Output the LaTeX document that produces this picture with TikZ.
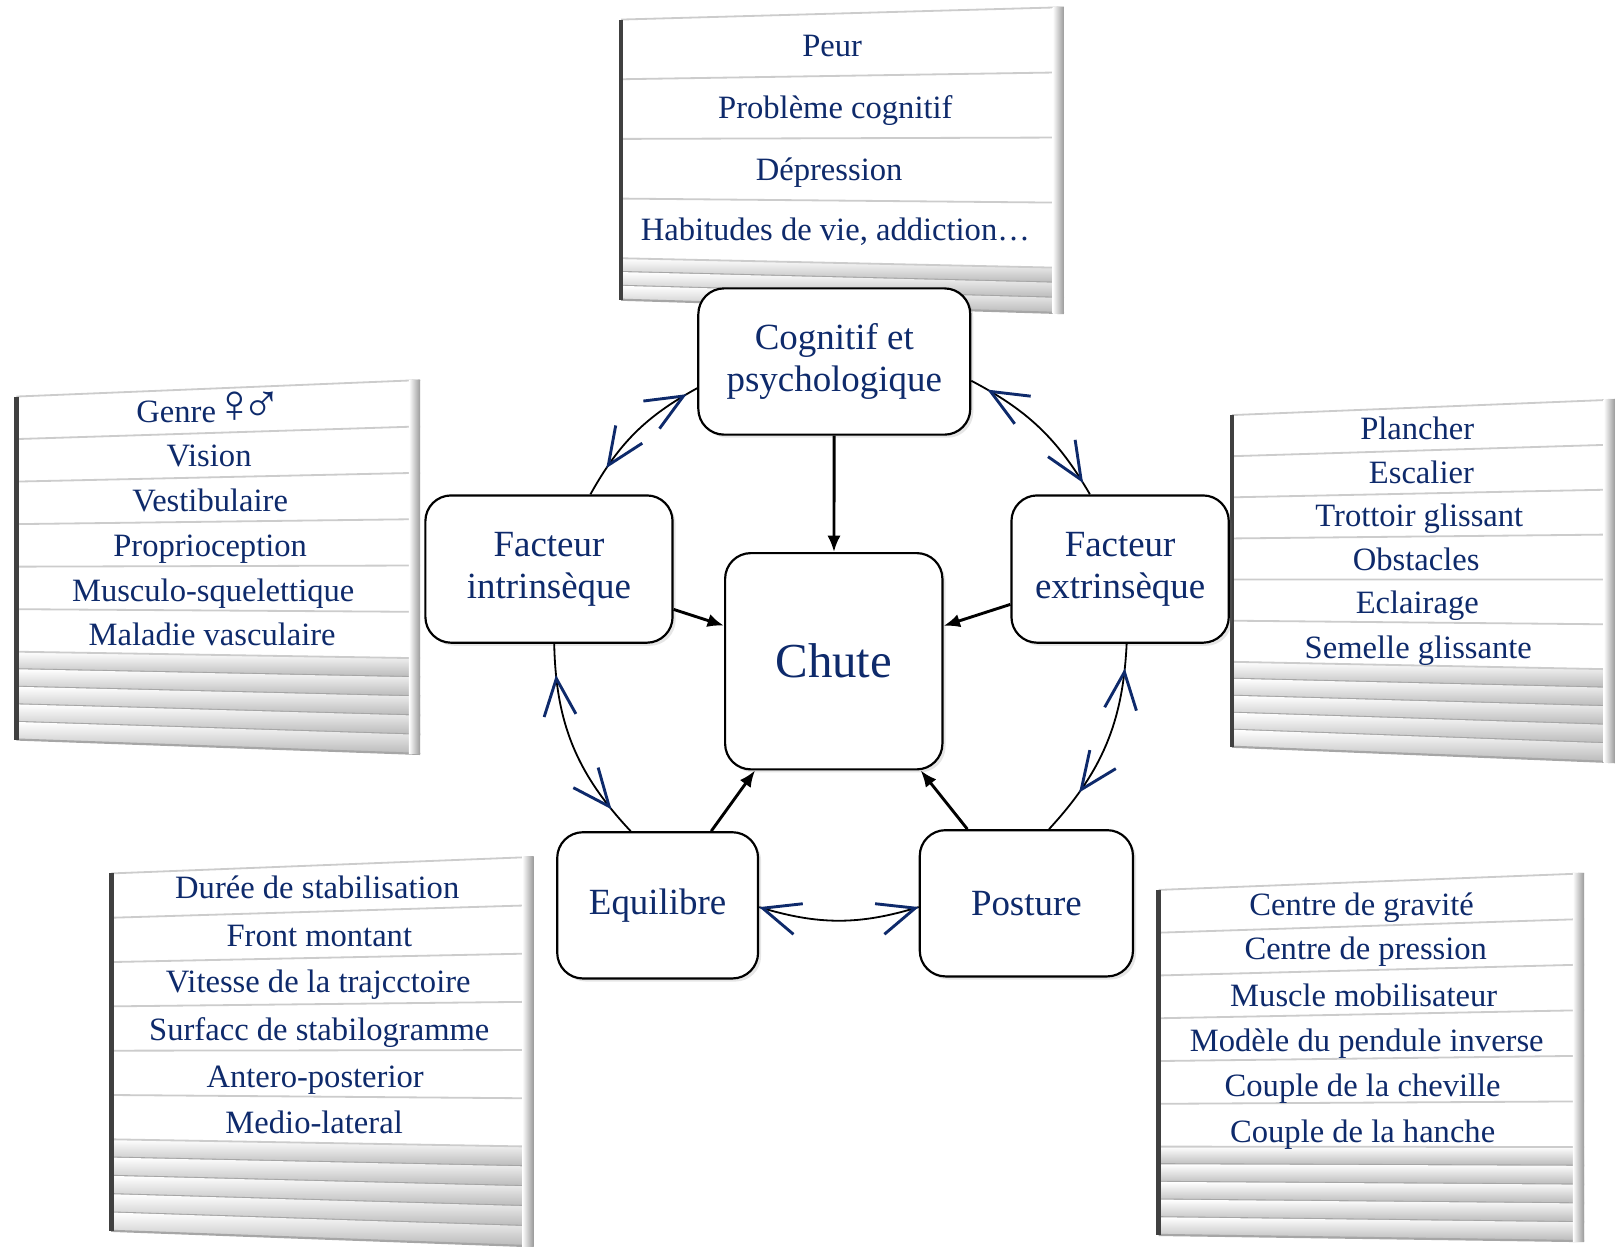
\documentclass[tikz,border=0pt]{standalone}
\usepackage{fontspec}
\setmainfont{Liberation Serif}
\usepackage{xcolor}
\usetikzlibrary{positioning}
\usetikzlibrary{calc}
\usetikzlibrary{arrows.meta, decorations.markings, shadows}
\definecolor{navy}{HTML}{0E2A6B}
\tikzset{
	factor/.style={rectangle, rounded corners=0.25cm, draw, semithick, fill=white, text=navy, align=center, inner sep=0pt, font=\fontsize{10.2}{11.6}\selectfont, drop shadow={opacity=0.2, shadow xshift=0.03cm, shadow yshift=-0.03cm}},
	item/.style={text=navy, text height=0.68em, text depth=0pt, font=\fontsize{9}{10}\selectfont},
	tochute/.style={-{Latex[length=1.6mm, width=1.3mm]}, line width=0.8pt},
	vtip/.tip={Straight Barb[length=3.6mm, width=3.1mm, line width=0.8pt, color=navy]},
	cyc/.style 2 args={line width=0.5pt, postaction={decorate, decoration={markings, mark=at position #1 with {\arrowreversed{vtip}}, mark=at position #2 with {\arrow{vtip}}}}}
}
% sheet of paper with its list rows and stacked page edges
% #1,#2 left/right x; #3,#4 top y left/right; #5,#6 bottom y left/right; #7 rows; #8 row height; #9 page edges
\newcommand{\paperstack}[9]{%
	\coordinate (tl) at (#1,#3);
	\coordinate (tr) at (#2,#4);
	\coordinate (br) at (#2,#6);
	\coordinate (bl) at (#1,#5);
	\fill[white] (tl) -- (tr) -- (br) -- (bl) -- cycle;
	\foreach \k in {1,...,#9} {
		\pgfmathsetmacro{\ta}{#7*#8+(\k-1)*(1-#7*#8)/#9}
		\pgfmathsetmacro{\tb}{#7*#8+\k*(1-#7*#8)/#9}
		\shade[top color=white, bottom color=gray!55] ($(tl)!\ta!(bl)$) -- ($(tr)!\ta!(br)$) -- ($(tr)!\tb!(br)$) -- ($(tl)!\tb!(bl)$) -- cycle;
		\draw[gray!70, line width=0.6pt] ($(tl)!\tb!(bl)$) -- ($(tr)!\tb!(br)$);
	}
	\foreach \k in {1,...,#7} {
		\pgfmathsetmacro{\ta}{\k*#8}
		\draw[gray!40, line width=0.5pt] ($(tl)!\ta!(bl)$) -- ($(tr)!\ta!(br)$);
	}
	\draw[gray!40, line width=0.5pt] (tl) -- (tr);
	\shade[left color=white, right color=gray!80] ($(tr)+(-0.11,0)$) -- (tr) -- (br) -- ($(br)+(-0.11,0)$) -- cycle;
	\draw[black!75, line width=1.3pt] (tl) -- (bl);
}

\begin{document}
\begin{tikzpicture}
	\useasboundingbox (0,0) rectangle (15.68,-12.10);
	
	% lists
	\paperstack{6.03}{10.33}{-0.19}{-0.07}{-2.91}{-3.04}{4}{0.213}{3}
	\paperstack{0.16}{4.08}{-3.85}{-3.69}{-7.18}{-7.32}{6}{0.124}{5}
	\paperstack{11.96}{15.68}{-4.03}{-3.88}{-7.25}{-7.40}{6}{0.124}{5}
	\paperstack{1.08}{5.18}{-8.48}{-8.32}{-11.95}{-12.10}{6}{0.124}{5}
	\paperstack{11.25}{15.38}{-8.64}{-8.48}{-11.99}{-12.05}{6}{0.124}{5}
	
	\node[item] (peur) at (8.08,-0.43) {Peur};
	\node[item] (probcog) at (8.11,-1.03) {Problème cognitif};
	\node[item] (depr) at (8.05,-1.63) {Dépression};
	\node[item] (habit) at (8.11,-2.22) {Habitudes de vie, addiction…};
	
	\node[item] (genre) at (2.03,-3.98) {Genre\kern-2.8pt{} {\fontsize{15}{10}\selectfont ♀\kern-3.8pt♂}};
	\node[item] (vision) at (2.03,-4.41) {Vision};
	\node[item] (vestib) at (2.04,-4.85) {Vestibulaire};
	\node[item] (propri) at (2.04,-5.28) {Proprioception};
	\node[item] (muscsq) at (2.07,-5.72) {Musculo-squelettique};
	\node[item] (maladie) at (2.06,-6.15) {Maladie vasculaire};
	
	\node[item] (planch) at (13.76,-4.15) {Plancher};
	\node[item] (escal) at (13.80,-4.57) {Escalier};
	\node[item] (trott) at (13.78,-4.99) {Trottoir glissant};
	\node[item] (obst) at (13.75,-5.42) {Obstacles};
	\node[item] (eclair) at (13.76,-5.84) {Eclairage};
	\node[item] (semel) at (13.77,-6.27) {Semelle glissante};
	
	\node[item] (duree) at (3.08,-8.60) {Durée de stabilisation};
	\node[item] (front) at (3.10,-9.07) {Front montant};
	\node[item] (vitesse) at (3.09,-9.52) {Vitesse de la trajcctoire};
	\node[item] (surf) at (3.10,-9.98) {Surfacc de stabilogramme};
	\node[item] (antpost) at (3.06,-10.44) {Antero-posterior};
	\node[item] (medlat) at (3.05,-10.89) {Medio-lateral};
	
	\node[item] (cgrav) at (13.22,-8.77) {Centre de gravité};
	\node[item] (cpress) at (13.26,-9.20) {Centre de pression};
	\node[item] (muscmob) at (13.24,-9.65) {Muscle mobilisateur};
	\node[item] (pendule) at (13.27,-10.09) {Modèle du pendule inverse};
	\node[item] (cheville) at (13.23,-10.53) {Couple de la cheville};
	\node[item] (hanche) at (13.23,-10.97) {Couple de la hanche};
	
	% factors
	\node[factor, minimum width=2.64cm, minimum height=1.42cm] (cog) at (8.10,-3.51) {Cognitif et\\psychologique};
	\node[factor, minimum width=2.40cm, minimum height=1.43cm] (intr) at (5.33,-5.525) {Facteur\\intrinsèque};
	\node[factor, minimum width=2.11cm, minimum height=1.43cm] (extr) at (10.875,-5.525) {Facteur\\extrinsèque};
	\node[factor, minimum width=2.11cm, minimum height=2.10cm, font=\fontsize{13.5}{15}\selectfont] (chute) at (8.095,-6.42) {Chute};
	\node[factor, minimum width=1.95cm, minimum height=1.42cm] (equi) at (6.385,-8.79) {Equilibre};
	\node[factor, minimum width=2.07cm, minimum height=1.42cm] (post) at (9.965,-8.77) {Posture};
	
	\path[tochute] (cog) edge (chute);
	\path[tochute] (intr) edge (chute);
	\path[tochute] (extr) edge (chute);
	\path[tochute] (equi) edge (chute);
	\path[tochute] (post) edge (chute);
	
	\draw[cyc={0.2}{0.92}] (intr.61) to[bend left=16] (cog.191);
	\draw[cyc={0.11}{0.92}] (cog.352) to[bend left=16] (extr.112);
	\draw[cyc={0.12}{0.77}] (extr.275) to[bend left=20] (post.73);
	\draw[cyc={0}{1}] (post.182) to[bend left=17] (equi.359);
	\draw[cyc={0.14}{0.85}] (equi.110) to[bend left=21] (intr.274);
	
\end{tikzpicture}
\end{document}
